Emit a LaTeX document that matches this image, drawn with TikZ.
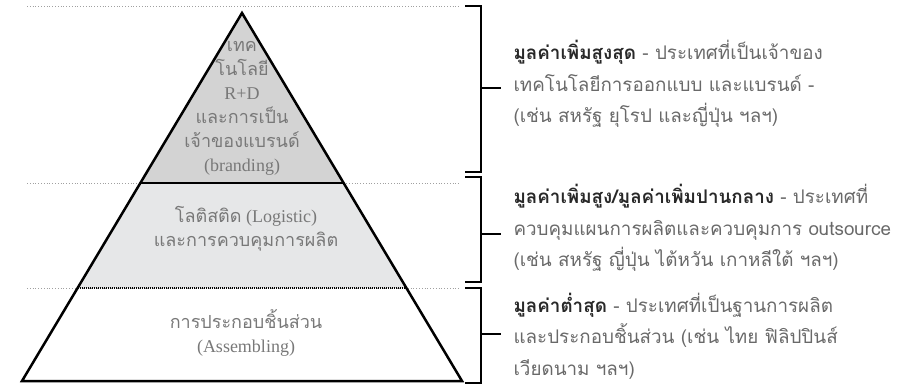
\documentclass[tikz,border=0pt]{standalone}
\usepackage{fontspec}
\newfontfamily\thai[Script=Thai]{Loma}
\newfontfamily\latinserif{Liberation Serif}
\usetikzlibrary{calc}

\definecolor{topgray}{RGB}{211,211,211}
\definecolor{midgray}{RGB}{230,231,232}
\definecolor{layertext}{RGB}{120,120,120}
\definecolor{sidetext}{RGB}{105,105,105}
\definecolor{sidehead}{RGB}{40,40,40}
\definecolor{guide}{RGB}{160,160,160}

\begin{document}
\begin{tikzpicture}[x=1pt,y=-1pt,
    layer text/.style={align=center,text=layertext,font=\latinserif\fontsize{18}{24}\selectfont},
    side text/.style={anchor=west,align=left,text=sidetext,font=\thai\fontsize{18.8}{31.5}\selectfont},
    guide line/.style={guide,line width=0.8pt,dotted},
    bracket/.style={line width=2.5pt,line cap=rect}]

    \useasboundingbox (0,0) rectangle (899,385);

    % pyramid corners and layer boundaries
    \coordinate (apex) at (242,13);
    \coordinate (bl) at (22,381);
    \coordinate (br) at (462,381);
    \coordinate (ul) at ($(apex)!0.462!(bl)$);
    \coordinate (ur) at ($(apex)!0.462!(br)$);
    \coordinate (ll) at ($(apex)!0.7473!(bl)$);
    \coordinate (lr) at ($(apex)!0.7473!(br)$);

    \fill[topgray] (apex) -- (ul) -- (ur) -- cycle;
    \fill[midgray] (ul) -- (ll) -- (lr) -- (ur) -- cycle;

    % guide lines
    \draw[guide line] (27,6) -- (460,6);
    \draw[guide line] (27,183) -- (460,183);
    \draw[guide line] (27,288) -- (460,288);

    \draw[line width=2.5pt,dash pattern=on 1.2pt off 0.8pt] (ul) -- (ur);
    \draw[line width=2.5pt,dash pattern=on 1.2pt off 0.8pt] (ll) -- (lr);
    \draw[line width=2.5pt,line join=miter] (apex) -- (bl) -- (br) -- cycle;

    % layer labels
    \node[layer text] (top) at (242,108) {{\thai เทค}\\{\thai โนโลยี}\\R+D\\{\thai และการเป็น}\\{\thai เจ้าของแบรนด์}\\(branding)};
    \node[layer text] (mid) at (246,229) {{\thai โลติสติด} (Logistic)\\{\thai และการควบคุมการผลิต}};
    \node[layer text] (low) at (246,333) {{\thai การประกอบชิ้นส่วน}\\(Assembling)};

    % brackets
    \foreach \t/\b/\m in {6/172/88, 177/282/234, 288/383/334}{
        \draw[bracket] (466,\t) -- (481,\t) -- (481,\b) -- (466,\b);
        \draw[bracket] (481,\m) -- (500,\m);
    }

    % side descriptions
    \node[side text] (high) at (510,84) {{\color{sidehead}\textbf{มูลค่าเพิ่มสูงสุด}} - ประเทศที่เป็นเจ้าของ\\เทคโนโลยีการออกแบบ และแบรนด์ -\\(เช่น สหรัฐ ยุโรป และญี่ปุ่น ฯลฯ)};
    \node[side text] (medium) at (510,228) {{\color{sidehead}\textbf{มูลค่าเพิ่มสูง/มูลค่าเพิ่มปานกลาง}} - ประเทศที่\\ควบคุมแผนการผลิตและควบคุมการ outsource\\(เช่น สหรัฐ ญี่ปุ่น ไต้หวัน เกาหลีใต้ ฯลฯ)};
    \node[side text] (lowest) at (510,336) {{\color{sidehead}\textbf{มูลค่าต่ำสุด}} - ประเทศที่เป็นฐานการผลิต\\และประกอบชิ้นส่วน (เช่น ไทย ฟิลิปปินส์\\เวียดนาม ฯลฯ)};
\end{tikzpicture}
\end{document}
